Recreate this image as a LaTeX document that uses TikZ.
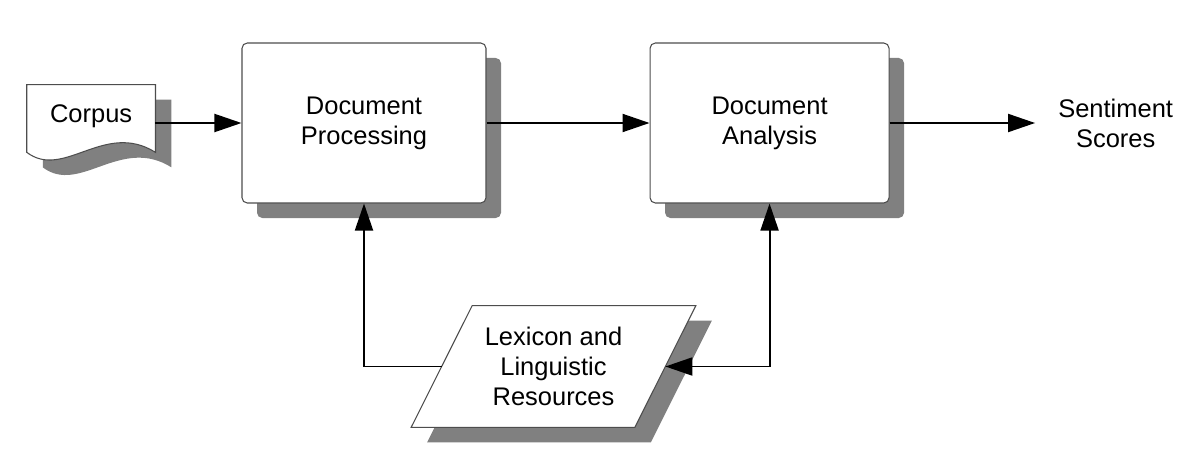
\documentclass[tikz,border=0pt]{standalone}
\usepackage{fontspec}
\setmainfont{Liberation Sans}
\usetikzlibrary{positioning,arrows.meta,shadows,backgrounds}
\definecolor{shadowGray}{HTML}{808080}
\definecolor{edgeGray}{HTML}{4D4D4D}

\begin{document}
\begin{tikzpicture}[
                node distance=1.72cm,
                >={Triangle[length=0.54cm,width=0.36cm]},
                every node/.style={font=\fontsize{14.5}{17}\selectfont},
                procbox/.style={draw=edgeGray, fill=white, line width=0.6pt, rounded corners=3pt,
                                minimum width=4.88cm, minimum height=3.2cm, align=center,
                                drop shadow={shadow xshift=0.3cm, shadow yshift=-0.3cm, fill=shadowGray, opacity=1}},
                outline/.style={draw=edgeGray, fill=white, line width=0.6pt,
                                drop shadow={shadow xshift=0.32cm, shadow yshift=-0.3cm, fill=shadowGray, opacity=1}},
                arrow/.style={->, line width=1.1pt}
            ]
                \useasboundingbox (0,0) rectangle (24,-9.24);

                \node[procbox] (dp) at (7.28,-2.46) {Document\\Processing};

                \node[procbox, minimum width=4.78cm, right=3.26cm of dp] (da) {Document\\Analysis};

                \node[minimum width=2.56cm, minimum height=1.52cm, text depth=0.37cm, left=of dp] (corpus) {Corpus};

                \node[align=center, right=3.25cm of da] (sent) {Sentiment\\Scores};

                \node[minimum width=4.46cm, minimum height=2.42cm, align=center] (lex) at (11.07,-7.33)
                     {Lexicon and\\Linguistic\\Resources};

                % Outlines of the document and data shapes go under the text
                \begin{scope}[on background layer]
                    \draw[outline] (corpus.north west) -- ([yshift=0.18cm]corpus.south west)
                        .. controls +(0.74,-0.56) and +(-1.02,0.64) .. ([yshift=0.18cm]corpus.south east)
                        -- (corpus.north east) -- cycle;
                    \draw[outline] ([xshift=0.61cm]lex.north west) -- ([xshift=0.61cm]lex.north east)
                        -- ([xshift=-0.61cm]lex.south east) -- ([xshift=-0.61cm]lex.south west) -- cycle;
                \end{scope}

                \draw[arrow] (corpus.east) -- (dp.west);
                \draw[arrow] (dp) -- (da);
                \draw[arrow, shorten >=0.34cm] (da) -- (sent);
                \draw[arrow] (lex.west) -| (dp.south);
                \draw[arrow, <->] (lex.east) -| (da.south);

            \end{tikzpicture}
\end{document}
